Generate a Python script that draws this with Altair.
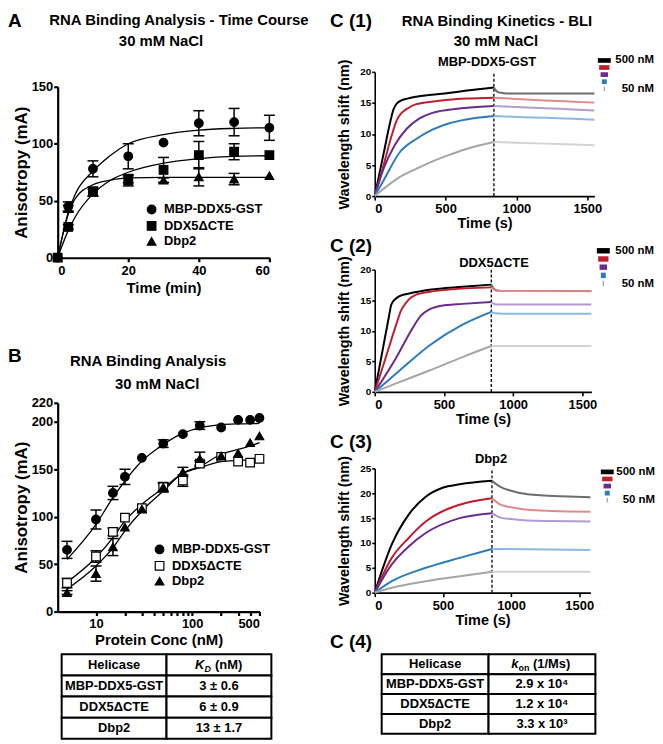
import altair as alt
import pandas as pd

FONT = "Liberation Sans"

# ===================== Panel A : time course =====================
a_series = ["MBP-DDX5-GST", "DDX5\u0394CTE", "Dbp2"]
a_time = [0, 3, 10, 20, 30, 40, 50, 60]
a_mbp = [0, 45, 78, 89, 101, 118, 119, 114]
a_mbp_err = [0, 4, 7, 11, 0, 11, 12, 11]
a_ddx = [0, 27, 58, 68, 77, 90, 93, 90]
a_ddx_err = [0, 2, 4, 5, 11, 12, 7, 0]
a_dbp = [0, 43, 57, 69, 68, 71, 69, 72]
a_dbp_err = [0, 3, 3, 3, 2, 8, 5, 0]
a_fit_time = [0, 3, 5, 10, 15, 20, 30, 40, 50, 60]
a_fit_mbp = [0, 40, 56, 76, 90, 100, 108, 112, 113.5, 114]
a_fit_ddx = [0, 24, 36, 56, 68, 75, 83, 87, 89, 89.5]
a_fit_dbp = [0, 38, 52, 64, 68, 70, 70.5, 70.5, 70.5, 70.5]

# ===================== Panel B : titration =====================
b_conc = [5, 10, 15, 20, 30, 50, 80, 120, 200, 300, 400, 500]
b_mbp = [65, 97, 125, 142, 162, 177, 187, 196, 194, 202, 202, 204]
b_mbp_err = [9, 10, 7, 8, 0, 4, 0, 4, 0, 0, 0, 0]
b_ddx = [30, 58, 84, 99, 109, 131, 138, 156, 163, 158, 157, 161]
b_ddx_err = [5, 6, 4, 0, 0, 4, 6, 3, 0, 0, 0, 0]
b_dbp = [20, 40, 68, 89, 108, 131, 147, 161, 164, 167, 178, 185]
b_dbp_err = [2, 8, 9, 0, 0, 5, 5, 7, 0, 0, 0, 0]
b_fit_mbp = [55, 92, 120, 137.6, 158.6, 176, 188, 193.7, 197, 197.8, 198, 198.3]
b_fit_ddx = [31, 57, 78, 95.5, 113, 130, 145.6, 151.6, 158, 159.3, 159.8, 160]
b_fit_dbp = [23.5, 48, 67, 85, 106, 127, 146, 153, 165.6, 171, 174.5, 178]

kd_rows = [["MBP-DDX5-GST", "3 \u00b1 0.6"], ["DDX5\u0394CTE", "6 \u00b1 0.9"], ["Dbp2", "13 \u00b1 1.7"]]
kon_rows = [["MBP-DDX5-GST", "2.9 x 10\u2074"], ["DDX5\u0394CTE", "1.2 x 10\u2074"], ["Dbp2", "3.3 x 10\u00b3"]]

# ===================== Panel C : BLI traces =====================
c_levels = ["500 nM", "level 2", "level 3", "level 4", "50 nM"]
c_assoc_colors = ["#000000", "#be1e2d", "#6a2c91", "#2b7bbf", "#a6a6a6"]
c_dissoc_colors = ["#6d6d6d", "#e08a8f", "#b39ad3", "#8cb8e2", "#d3d3d3"]
funnel_half = [1.0, 0.8, 0.58, 0.38, 0.1]

# C(1) MBP-DDX5-GST
c1_at = [[0, 64, 110, 133, 160, 178, 230, 293, 400, 521, 650, 841],
         [0, 64, 120, 155, 190, 224, 293, 400, 521, 650, 841],
         [0, 64, 144, 224, 316, 407, 521, 636, 841],
         [0, 64, 178, 293, 407, 521, 636, 841],
         [0, 64, 178, 293, 407, 521, 636, 841]]
c1_av = [[0, 7.0, 12.0, 14.0, 15.0, 15.3, 15.7, 16.0, 16.3, 16.6, 17.0, 17.5],
         [0, 5.1, 9.8, 12.2, 13.4, 14.0, 14.8, 15.2, 15.5, 15.7, 15.85],
         [0, 4.5, 8.3, 10.8, 12.5, 13.4, 13.9, 14.2, 14.5],
         [0, 2.6, 7.1, 9.2, 10.7, 11.7, 12.3, 12.9],
         [0, 1.2, 3.1, 4.4, 5.6, 6.6, 7.5, 8.7]]
c1_dt = [[841, 855, 870, 900, 950, 1100, 1550],
         [841, 1000, 1200, 1400, 1550],
         [841, 1000, 1200, 1400, 1550],
         [841, 1000, 1200, 1400, 1550],
         [841, 1000, 1200, 1400, 1550]]
c1_dv = [[17.5, 17.0, 16.75, 16.6, 16.5, 16.5, 16.5],
         [15.85, 15.65, 15.4, 15.2, 15.05],
         [14.5, 14.35, 14.15, 13.95, 13.8],
         [12.9, 12.75, 12.6, 12.45, 12.3],
         [8.7, 8.6, 8.45, 8.3, 8.2]]

# C(2) DDX5dCTE
c2_at = [[0, 60, 100, 120, 150, 179, 250, 395, 634, 842],
         [0, 78, 155, 190, 227, 260, 299, 400, 514, 842],
         [0, 155, 275, 330, 395, 514, 634, 842],
         [0, 155, 395, 634, 842],
         [0, 155, 395, 634, 842]]
c2_av = [[0, 7.2, 12.0, 14.3, 15.2, 15.65, 16.1, 16.7, 17.2, 17.55],
         [0, 5.5, 11.0, 13.3, 14.6, 15.4, 15.9, 16.4, 16.7, 17.1],
         [0, 5.6, 10.5, 12.4, 13.5, 14.2, 14.4, 14.7],
         [0, 3.0, 7.6, 11.0, 13.1],
         [0, 1.4, 3.5, 5.7, 7.5]]
c2_dt = [[842, 860, 885, 950, 1565],
         [842, 870, 920, 1565],
         [842, 870, 920, 1565],
         [842, 870, 920, 1565],
         [842, 1565]]
c2_dv = [[17.55, 16.9, 16.6, 16.5, 16.5],
         [17.1, 16.6, 16.5, 16.45],
         [14.7, 14.35, 14.3, 14.3],
         [13.1, 12.85, 12.8, 12.8],
         [7.5, 7.5]]

# C(3) Dbp2
c3_at = [[0, 125, 249, 374, 498, 623, 860],
         [0, 125, 249, 374, 623, 860],
         [0, 125, 249, 374, 623, 860],
         [0, 125, 374, 623, 860],
         [0, 125, 374, 623, 860]]
c3_av = [[0, 9.7, 15.7, 19.3, 21.1, 21.8, 22.5],
         [0, 7.0, 11.0, 14.3, 17.7, 19.0],
         [0, 5.7, 9.3, 12.0, 15.0, 16.0],
         [0, 2.3, 5.0, 7.0, 8.8],
         [0, 1.0, 2.3, 3.3, 4.2]]
c3_dt = [[860, 922, 1000, 1121, 1250, 1370, 1582],
         [860, 922, 1000, 1121, 1300, 1582],
         [860, 922, 1000, 1121, 1300, 1582],
         [860, 1582],
         [860, 1582]]
c3_dv = [[22.5, 21.3, 20.5, 19.8, 19.55, 19.4, 19.2],
         [19.0, 17.7, 17.2, 16.7, 16.45, 16.3],
         [16.0, 15.1, 14.8, 14.5, 14.4, 14.3],
         [8.8, 8.6],
         [4.2, 4.2]]


# ---------------------------------------------------------------
def ax(label_size, title_size, width, tick, lpad, tpad, **kw):
    d = dict(domainColor="black", domainWidth=width, tickColor="black", tickWidth=width,
             tickSize=tick, labelFont=FONT, labelFontSize=label_size, labelFontWeight="bold",
             labelColor="black", labelPadding=lpad, titleFont=FONT, titleFontSize=title_size,
             titleFontWeight="bold", titleColor="black", titlePadding=tpad, grid=False,
             labelOverlap=False)
    d.update(kw)
    return alt.Axis(**d)


def txt(text, x, y, size=15, align="center", italic=False, baseline="alphabetic"):
    props = dict(font=FONT, fontSize=size, fontWeight="bold", align=align,
                 baseline=baseline, color="black")
    if italic:
        props["fontStyle"] = "italic"
    return alt.Chart(pd.DataFrame({"label": [text]})).mark_text(**props).encode(
        x=alt.value(x), y=alt.value(y), text="label:N")


def top_spacer(w):
    return alt.Chart(pd.DataFrame({"a": [0]})).mark_point(opacity=0, size=1).encode(
        x=alt.value(0), y=alt.value(0)).properties(width=w, height=1)


def points_frame(series, xs, values, errors):
    rows = []
    for name, ys, es in zip(series, values, errors):
        for x, y, e in zip(xs, ys, es):
            rows.append(dict(series=name, x=x, y=y, lo=y - e, hi=y + e, err=e))
    return pd.DataFrame(rows)


def fit_frame(series, xs, values):
    rows = []
    for name, ys in zip(series, values):
        for x, y in zip(xs, ys):
            rows.append(dict(series=name, x=x, y=y))
    return pd.DataFrame(rows)


def scatter_panel(pts, fits, series, xscale, xaxis, yscale, yaxis, shapes, fills,
                  legend_x, legend_y, w, h, texts):
    def X(f):
        return alt.X(f"{f}:Q", scale=xscale, axis=xaxis)

    def Y(f):
        return alt.Y(f"{f}:Q", scale=yscale, axis=yaxis)

    leg = alt.Legend(orient="none", legendX=legend_x, legendY=legend_y, title=None,
                     labelFont=FONT, labelFontSize=13, labelFontWeight="bold",
                     labelColor="black", symbolStrokeColor="black", symbolStrokeWidth=1.2,
                     symbolSize=75, rowPadding=1.5, labelOffset=6, padding=0)
    fit = alt.Chart(fits).mark_line(color="black", strokeWidth=1.3,
                                    interpolate="monotone").encode(
        x=X("x"), y=Y("y"), detail="series:N")
    errs = pts[pts["err"] > 0]
    bars = alt.Chart(errs).mark_rule(color="black", strokeWidth=1.5).encode(
        x=X("x"), y=Y("lo"), y2="hi:Q")
    cap_lo = alt.Chart(errs).mark_tick(color="black", orient="horizontal", size=11,
                                       thickness=1.5, opacity=1).encode(x=X("x"), y=Y("lo"))
    cap_hi = alt.Chart(errs).mark_tick(color="black", orient="horizontal", size=11,
                                       thickness=1.5, opacity=1).encode(x=X("x"), y=Y("hi"))
    dots = alt.Chart(pts).mark_point(filled=True, size=75, strokeWidth=1.2,
                                     opacity=1).encode(
        x=X("x"), y=Y("y"),
        shape=alt.Shape("series:N", scale=alt.Scale(domain=series, range=shapes), legend=leg),
        fill=alt.Fill("series:N", scale=alt.Scale(domain=series, range=fills), legend=leg),
        stroke=alt.Stroke("series:N", scale=alt.Scale(domain=series,
                                                      range=["black"] * len(series)),
                          legend=leg))
    return alt.layer(fit, bars, cap_lo, cap_hi, dots, *texts).properties(width=w, height=h)


def table_chart(rows_text, header_parts, w, h, x0, extra):
    cells = []
    all_rows = [["Helicase", ""]] + rows_text
    for r, row in enumerate(all_rows):
        for c, val in enumerate(row):
            cells.append(dict(row=r, col=c, label=val))
    df = pd.DataFrame(cells)
    X = alt.X("col:O", scale=alt.Scale(paddingInner=0, paddingOuter=0, range=[x0, w]), axis=None)
    Y = alt.Y("row:O", scale=alt.Scale(paddingInner=0, paddingOuter=0), axis=None)
    rects = alt.Chart(df).mark_rect(fill="white", stroke="black", strokeWidth=2).encode(x=X, y=Y)
    texts = alt.Chart(df).mark_text(font=FONT, fontSize=13, fontWeight="bold", color="black",
                                    baseline="middle").encode(x=X, y=Y, text="label:N")
    layers = [rects, texts]
    for text, size, italic, dx, dy in header_parts:
        props = dict(font=FONT, fontSize=size, fontWeight="bold", color="black",
                     baseline="middle", align="left", dx=dx, dy=dy)
        if italic:
            props["fontStyle"] = "italic"
        layers.append(alt.Chart(pd.DataFrame({"row": [0], "col": [1], "label": [text]}))
                      .mark_text(**props).encode(x=X, y=Y, text="label:N"))
    return alt.layer(*layers, *extra).properties(width=w, height=h)


def kinetics_panel(at, av, dt, dv, t_max, y_max, y_ticks, w, h, dash_t,
                   fcx, fy0, fy4, label_right, texts):
    keys_a = [f"{l} association" for l in c_levels]
    keys_d = [f"{l} dissociation" for l in c_levels]
    rows = []
    for i in range(len(c_levels)):
        for t, v in zip(at[i], av[i]):
            rows.append(dict(key=keys_a[i], t=t, v=v))
        for t, v in zip(dt[i], dv[i]):
            rows.append(dict(key=keys_d[i], t=t, v=v))
    df = pd.DataFrame(rows)
    cscale = alt.Scale(domain=keys_a + keys_d, range=c_assoc_colors + c_dissoc_colors)
    xs = alt.Scale(domain=[0, t_max], nice=False)
    ys = alt.Scale(domain=[0, y_max], nice=False)
    xa = ax(13, 14.5, 1.6, 4, 3, 1, values=[0, 500, 1000, 1500], format="d", title="Time (s)")
    ya = ax(10, 14.5, 1.6, 3, 1, 8, values=y_ticks, title="Wavelength shift (nm)")
    curves = alt.Chart(df).mark_line(strokeWidth=2, interpolate="monotone").encode(
        x=alt.X("t:Q", scale=xs, axis=xa), y=alt.Y("v:Q", scale=ys, axis=ya),
        color=alt.Color("key:N", scale=cscale, legend=None), detail="key:N")
    ddf = pd.DataFrame({"t": [dash_t], "v": [0], "v2": [y_max]})
    dash = alt.Chart(ddf).mark_rule(color="black", strokeWidth=1.3, strokeDash=[3, 2]).encode(
        x=alt.X("t:Q", scale=xs, axis=xa), y=alt.Y("v:Q", scale=ys, axis=ya), y2="v2:Q")
    main = alt.layer(dash, curves, *texts)

    fdf = pd.DataFrame({"key": keys_a, "level": list(range(5)), "half": funnel_half})
    fdf["lo"] = -fdf["half"]
    fdf["hi"] = fdf["half"]
    fdf["top"] = fdf["level"] - 0.33
    fdf["bot"] = fdf["level"] + 0.33
    fxs = alt.Scale(domain=[-1, 1], range=[fcx - 6.5, fcx + 6.5])
    fys = alt.Scale(domain=[0, 4], range=[fy0, fy4])
    frect = alt.Chart(fdf).mark_rect().encode(
        x=alt.X("lo:Q", scale=fxs, axis=None), x2="hi:Q",
        y=alt.Y("top:Q", scale=fys, axis=None), y2="bot:Q",
        color=alt.Color("key:N", scale=cscale, legend=None))
    ldf = pd.DataFrame({"label": ["500 nM", "50 nM"], "level": [0, 4]})
    flab = alt.Chart(ldf).mark_text(font=FONT, fontSize=11.5, fontWeight="bold", color="black",
                                    align="right", baseline="middle").encode(
        x=alt.value(label_right), y=alt.Y("level:Q", scale=fys, axis=None), text="label:N")
    funnel = alt.layer(frect, flab)
    return alt.layer(main, funnel).resolve_scale(x="independent", y="independent").properties(
        width=w, height=h)


# ---------------- build panel A ----------------
pts_a = points_frame(a_series, a_time, [a_mbp, a_ddx, a_dbp], [a_mbp_err, a_ddx_err, a_dbp_err])
fit_a = fit_frame(a_series, a_fit_time, [a_fit_mbp, a_fit_ddx, a_fit_dbp])
panel_a = scatter_panel(
    pts_a, fit_a, a_series,
    alt.Scale(domain=[0, 60], nice=False),
    ax(13, 15, 2.2, 4, 3, 3, values=[0, 20, 40, 60], title="Time (min)"),
    alt.Scale(domain=[0, 150], nice=False),
    ax(13, 17, 2.2, 4, 1, 1, values=[0, 50, 100, 150], title="Anisotropy (mA)"),
    ["circle", "square", "triangle-up"], ["black", "black", "black"],
    88, 117, 213, 172,
    [txt("A", -50, -60, size=19, align="left"),
     txt("RNA Binding Analysis - Time Course", 122, -62),
     txt("30 mM NaCl", 104, -41)])

# ---------------- build panel B ----------------
pts_b = points_frame(a_series, b_conc, [b_mbp, b_ddx, b_dbp], [b_mbp_err, b_ddx_err, b_dbp_err])
fit_b = fit_frame(a_series, b_conc, [b_fit_mbp, b_fit_ddx, b_fit_dbp])
panel_b = scatter_panel(
    pts_b, fit_b, a_series,
    alt.Scale(type="log", domain=[4, 500], nice=False),
    ax(13, 15, 2.2, 4, 2, 2, values=[10, 20, 30, 40, 50, 60, 70, 80, 90, 100, 200, 300, 400, 500],
       format="d",
       labelExpr="(datum.value == 10 || datum.value == 100 || datum.value == 500) ? datum.label : ''",
       title="Protein Conc (nM)"),
    alt.Scale(domain=[0, 220], nice=False),
    ax(13, 17, 2.2, 4, 1, 1, values=[0, 50, 100, 150, 200, 220], title="Anisotropy (mA)"),
    ["circle", "square", "triangle-up"], ["black", "white", "black"],
    96, 141, 203, 210,
    [txt("B", -50, -41, size=19, align="left"),
     txt("RNA Binding Analysis", 91, -37),
     txt("30 mM NaCl", 100, -14)])

table_b = table_chart(
    kd_rows,
    [("K", 13, True, -24, 0), ("D", 9, True, -14.5, 4), ("(nM)", 13, False, -4, 0)],
    215, 85, 4, [])

# ---------------- build panel C ----------------
c1 = kinetics_panel(c1_at, c1_av, c1_dt, c1_dv, 1550, 20, [0, 5, 10, 15, 20], 221, 125, 841,
                    231, -11.5, 17, 281,
                    [txt("C (1)", -45, -45, size=19, align="left"),
                     txt("RNA Binding Kinetics - BLI", 123, -46),
                     txt("30 mM NaCl", 122, -26),
                     txt("MBP-DDX5-GST", 113, -6, size=13)])
c2 = kinetics_panel(c2_at, c2_av, c2_dt, c2_dv, 1565, 20, [0, 5, 10, 15, 20], 218, 123, 842,
                    230, -19, 14, 281,
                    [txt("C (2)", -45, -18, size=19, align="left"),
                     txt("DDX5\u0394CTE", 120, -3, size=13)])
c3 = kinetics_panel(c3_at, c3_av, c3_dt, c3_dv, 1582, 25, [0, 5, 10, 15, 20, 25], 217, 125, 860,
                    234, 3.5, 32, 282,
                    [txt("C (3)", -45, -21, size=19, align="left"),
                     txt("Dbp2", 117, -5, size=13)])
table_c = table_chart(
    kon_rows,
    [("k", 13, True, -31, 0), ("on", 9, False, -23.5, 4), ("(1/Ms)", 13, False, -9, 0)],
    222, 80, 7, [txt("C (4)", -45, -6, size=19, align="left")])

indep = dict(shape="independent", fill="independent", stroke="independent")
top_a = alt.vconcat(top_spacer(213), panel_a, spacing=0).resolve_scale(**indep)
mid_b = alt.vconcat(panel_b, table_b, spacing=6).resolve_scale(**indep)
left = alt.vconcat(top_a, mid_b, spacing=52).resolve_scale(**indep)
right = alt.vconcat(
    top_spacer(221),
    alt.vconcat(c1, c2, c3, table_c, spacing=6),
    spacing=0)
chart = alt.hconcat(left, right, spacing=20).properties(padding=0).configure_view(stroke=None)

chart.save("out.html", embed_options={"renderer": "svg", "actions": False})
